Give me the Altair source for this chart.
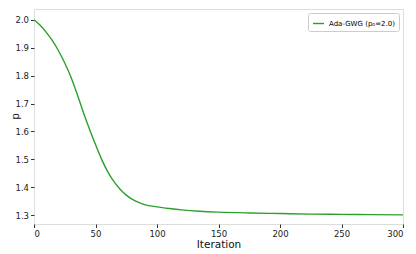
import altair as alt
import pandas as pd

iterations = [0, 5, 10, 15, 20, 25, 30, 35, 40, 45, 50, 55, 60, 65, 70, 75, 80, 85, 90,
              100, 110, 120, 135, 150, 175, 200, 225, 250, 275, 300]
p_values = [2.000, 1.980, 1.955, 1.925, 1.888, 1.845, 1.795, 1.735, 1.670, 1.610, 1.553,
            1.500, 1.455, 1.420, 1.393, 1.372, 1.357, 1.346, 1.338,
            1.330, 1.324, 1.319, 1.314, 1.311, 1.308, 1.306, 1.304, 1.303, 1.302, 1.301]
series_name = "Ada-GWG (p₀=2.0)"

df = pd.DataFrame({"Iteration": iterations, "p": p_values, "series": series_name})

chart = alt.Chart(df).mark_line(strokeWidth=1.4, interpolate="monotone").encode(
    x=alt.X("Iteration:Q", scale=alt.Scale(domain=[0, 300], nice=False, zero=False),
            axis=alt.Axis(values=[0, 50, 100, 150, 200, 250, 300], title="Iteration",
                          grid=False, tickSize=3.5, labelFontSize=8.5, titleFontSize=10.5,
                          titleFontWeight="normal", titlePadding=1, labelPadding=2,
                          domain=False, tickColor="#333", labelColor="#222", titleColor="#111")),
    y=alt.Y("p:Q", scale=alt.Scale(domain=[1.2685, 2.0385], nice=False, zero=False),
            axis=alt.Axis(values=[1.3, 1.4, 1.5, 1.6, 1.7, 1.8, 1.9, 2.0], format=".1f", title="p",
                          grid=False, tickSize=3.5, labelFontSize=8.5, titleFontSize=10.5,
                          titleFontWeight="normal", titleX=-14, titleY=107, labelPadding=2,
                          domain=False, tickColor="#333", labelColor="#222", titleColor="#111")),
    color=alt.Color("series:N", scale=alt.Scale(range=["#2ca02c"]),
                    legend=alt.Legend(title=None, orient="top-right", symbolType="stroke",
                                      symbolSize=120, symbolStrokeWidth=1.4, labelFontSize=7,
                                      strokeColor="#ccc", padding=4, offset=4,
                                      fillColor="white", cornerRadius=2)),
).properties(
    width=369, height=215, padding={"left": 26, "top": 1, "right": 5, "bottom": 30},
    autosize=alt.AutoSizeParams(type="none")
).configure_view(
    stroke="#333", strokeWidth=1
).configure(
    font="DejaVu Sans"
)

chart.save("out.html", embed_options={"renderer": "svg", "actions": False})
